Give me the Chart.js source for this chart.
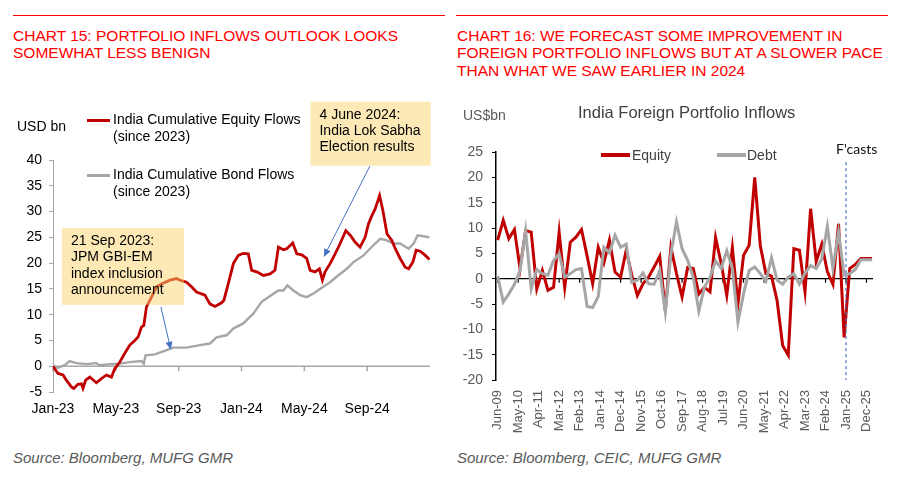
<!DOCTYPE html>
<html><head><meta charset="utf-8">
<script src="https://cdn.jsdelivr.net/npm/chart.js@4"></script>
<style>
body{margin:0;width:920px;height:489px;background:#fff;font-family:"Liberation Sans",Arial,sans-serif;position:relative;overflow:hidden}
.abs{position:absolute;white-space:nowrap}
.rule{position:absolute;height:1px;background:#ff0000}
.ttl{position:absolute;color:#ff0000;font-size:15.5px;line-height:17.3px;white-space:nowrap}
.src{position:absolute;color:#595959;font-size:15px;font-style:italic;line-height:18px;white-space:nowrap}
.leg{position:absolute;font-size:14px;line-height:17px;color:#000;white-space:nowrap}
.sw{position:absolute}
canvas{position:absolute}
</style></head><body>
<div class="rule" style="left:13px;top:15px;width:432px"></div>
<div class="ttl" style="left:13px;top:27px">CHART 15: PORTFOLIO INFLOWS OUTLOOK LOOKS<br>SOMEWHAT LESS BENIGN</div>
<div class="rule" style="left:456px;top:15px;width:432px"></div>
<div class="ttl" style="left:457px;top:27px">CHART 16: WE FORECAST SOME IMPROVEMENT IN<br>FOREIGN PORTFOLIO INFLOWS BUT AT A SLOWER PACE<br>THAN WHAT WE SAW EARLIER IN 2024</div>

<canvas id="left" width="440" height="430" style="left:0;top:0"></canvas>
<canvas id="right" width="450" height="440" style="left:450px;top:0"></canvas>

<div class="leg" style="left:17px;top:118px">USD bn</div>
<div class="sw" style="left:87px;top:119px;width:23px;height:2.5px;background:#c00000"></div>
<div class="leg" style="left:113px;top:111px">India Cumulative Equity Flows<br>(since 2023)</div>
<div class="sw" style="left:87px;top:174px;width:23px;height:2.5px;background:#a6a6a6"></div>
<div class="leg" style="left:113px;top:166px">India Cumulative Bond Flows<br>(since 2023)</div>

<div class="abs" style="left:463px;top:106px;font-size:14px;line-height:18px;color:#595959">US$bn</div>
<div class="abs" style="left:578px;top:103px;font-size:16.5px;line-height:19px;color:#404040">India Foreign Portfolio Inflows</div>
<div class="sw" style="left:601px;top:153px;width:29px;height:3.5px;background:#c00000"></div>
<div class="abs" style="left:632px;top:146px;font-size:14px;line-height:18px;color:#404040">Equity</div>
<div class="sw" style="left:717px;top:153px;width:29px;height:3.5px;background:#a6a6a6"></div>
<div class="abs" style="left:747px;top:146px;font-size:14px;line-height:18px;color:#404040">Debt</div>
<div class="abs" style="left:836px;top:140px;font-size:14px;line-height:18px;color:#111;font-family:Lato,'Open Sans',sans-serif">F'casts</div>

<div class="src" style="left:13px;top:449px">Source: Bloomberg, MUFG GMR</div>
<div class="src" style="left:457px;top:449px">Source: Bloomberg, CEIC, MUFG GMR</div>

<script>
// ---- Chart 15 data (x = months since Jan-2023) ----
const eqMonths = [0,0.32,0.64,0.85,1.17,1.32,1.59,1.81,1.91,2.08,2.34,2.76,3.08,3.40,3.72,3.93,4.25,4.57,4.89,5.21,5.42,5.63,5.78,5.95,6.27,6.59,7.01,7.44,7.86,8.08,8.50,8.82,9.14,9.67,9.99,10.31,10.73,10.88,11.16,11.48,11.80,12.11,12.43,12.65,12.97,13.39,13.82,14.13,14.35,14.67,14.88,15.26,15.52,15.83,16.15,16.37,16.68,16.96,17.15,17.32,17.64,17.96,18.28,18.64,18.92,19.23,19.55,19.87,20.08,20.30,20.51,20.79,21.00,21.26,21.57,21.79,22.10,22.42,22.64,22.91,23.12,23.38,23.70,23.97];
const eqValues = [0,-1.4,-1.7,-2.7,-4.0,-4.3,-3.5,-3.4,-4.3,-2.7,-2.1,-3.2,-2.4,-1.7,-2.1,-0.5,0.8,2.5,4.1,5.0,5.7,7.6,7.9,11.5,13.4,15.4,16.1,16.7,17.0,16.7,16.3,15.4,14.4,13.8,12.1,11.6,12.3,12.8,16.0,19.9,21.5,21.9,21.8,18.6,18.3,17.6,17.9,18.6,23.1,22.6,22.8,23.9,21.8,21.6,20.9,18.6,18.3,18.9,16.7,18.3,19.9,21.8,23.8,26.3,25.4,24.1,23.1,25.0,27.6,29.2,30.5,33.1,30.2,25.7,24.4,22.8,20.9,19.2,18.9,20.2,22.5,22.3,21.5,20.7];
const bondMonths = [0,0.32,0.74,1.06,1.49,2.13,2.76,2.98,3.61,4.25,4.89,5.63,5.78,5.89,6.48,7.23,7.65,8.50,9.35,9.99,10.41,11.05,11.48,12.11,12.75,13.28,13.82,14.35,14.67,14.92,15.30,15.73,16.15,16.58,17.11,17.64,18.07,18.70,19.13,19.77,20.08,20.51,20.83,21.26,21.68,22.10,22.64,22.96,23.21,23.59,23.97];
const bondValues = [0,-0.3,0.2,1.0,0.6,0.4,0.6,0.2,0.4,0.5,0.8,1.0,0.5,2.1,2.3,3.1,3.6,3.6,4.1,4.4,5.6,6.0,7.3,8.3,10.2,12.5,13.6,14.7,14.7,15.7,14.7,13.8,13.4,14.1,15.2,16.3,17.4,18.9,20.2,21.5,22.5,23.8,24.7,24.4,23.8,23.8,22.8,23.8,25.4,25.2,25.0];
const leftTickMonths = [0,4,8,12,16,20];
const leftTickLabels = ['Jan-23','May-23','Sep-23','Jan-24','May-24','Sep-24'];
const leftNotes = [
  {x0:16.39,x1:24.04,y0:51.3,y1:38.9,lines:['4 June 2024:','India Lok Sabha','Election results'],from:[20.17,38.8],to:[17.24,21.2]},
  {x0:0.57,x1:8.35,y0:26.8,y1:11.9,lines:['21 Sep 2023:','JPM GBI-EM','index inclusion','announcement'],from:[6.87,11.5],to:[7.5,3.2]}
];

// ---- Chart 16 data (quarterly, Jun-09 .. Mar-26) ----
const equityQ = [7.6,11.5,7.9,9.7,2.0,9.5,9.2,-2.0,1.6,-2.3,-1.7,9.2,-1.7,7.2,8.2,9.7,4.5,-1.0,6.2,3.1,7.6,1.3,0.3,5.6,0.7,-3.3,-1.0,0.3,2.3,4.4,-6.3,6.2,1.0,-3.6,2.2,2.0,-3.0,-1.7,-2.6,8.1,3.0,-3.3,6.1,-5.0,4.6,6.6,20.0,6.5,1.0,0.5,-4.3,-13.2,-15.1,5.9,5.6,-2.6,13.8,3.4,6.8,1.4,-1.1,10.8,-11.6,2.0,2.8,4.0,4.0,4.0];
const debtQ = [0.5,-4.6,-3.0,-1.1,1.6,9.4,-2.0,1.8,1.0,0.7,3.6,4.9,0.3,1.0,1.8,2.0,-5.5,-5.7,-3.5,6.2,5.1,8.6,6.2,6.8,-0.7,-0.3,1.1,-1.0,-1.1,1.6,-6.6,4.9,11.2,5.9,3.6,0.3,-6.4,-1.7,0.3,3.5,2.0,5.5,2.0,-8.6,-3.0,1.6,2.3,1.0,-0.5,4.1,-0.3,-1.1,0.3,1.0,-1.1,1.1,2.6,2.0,3.9,10.3,2.0,9.2,0.7,1.0,1.8,3.75,3.75,3.75];
const rightTickMonths = [0,11,22,33,44,55,66,77,88,99,110,121,132,143,154,165,176,187,198];
const rightTickLabels = ['Jun-09','May-10','Apr-11','Mar-12','Feb-13','Jan-14','Dec-14','Nov-15','Oct-16','Sep-17','Aug-18','Jul-19','Jun-20','May-21','Apr-22','Mar-23','Feb-24','Jan-25','Dec-25'];
const forecastStartMonth = 187; // Jan-25

const FAM = '"Liberation Sans", Arial, sans-serif';
Chart.defaults.font.family = FAM;

function arrow(ctx, x1, y1, x2, y2, color){
  const ang = Math.atan2(y2-y1, x2-x1), h = 8, w = 3.5;
  const bx = x2 - h*Math.cos(ang), by = y2 - h*Math.sin(ang);
  ctx.strokeStyle = color; ctx.fillStyle = color; ctx.lineWidth = 1;
  ctx.beginPath(); ctx.moveTo(x1,y1); ctx.lineTo(bx,by); ctx.stroke();
  ctx.beginPath(); ctx.moveTo(x2,y2);
  ctx.lineTo(bx + w*Math.sin(ang), by - w*Math.cos(ang));
  ctx.lineTo(bx - w*Math.sin(ang), by + w*Math.cos(ang));
  ctx.closePath(); ctx.fill();
}

const leftDeco = {
  id:'leftDeco',
  beforeDatasetsDraw(chart){
    const {ctx, chartArea:a, scales:{x,y}} = chart;
    const y0 = y.getPixelForValue(0);
    ctx.save(); ctx.strokeStyle='#a6a6a6'; ctx.lineWidth=1.5;
    ctx.beginPath(); ctx.moveTo(a.left,y0); ctx.lineTo(a.right,y0);
    leftTickMonths.forEach(m=>{const px=x.getPixelForValue(m); ctx.moveTo(px,y0); ctx.lineTo(px,y0+5);});
    ctx.stroke(); ctx.restore();
  },
  afterDatasetsDraw(chart){
    const {ctx, scales:{x,y}} = chart;
    ctx.save();
    leftNotes.forEach(n=>{
      const l=x.getPixelForValue(n.x0), r=x.getPixelForValue(n.x1), t=y.getPixelForValue(n.y0), b=y.getPixelForValue(n.y1);
      ctx.fillStyle='rgba(249,211,107,0.5)';
      ctx.fillRect(l,t,r-l,b-t);
      ctx.fillStyle='#000'; ctx.font='14px '+FAM; ctx.textBaseline='middle'; ctx.textAlign='left';
      n.lines.forEach((s,i)=>ctx.fillText(s, l+9, t+13+i*16.4));
      arrow(ctx, x.getPixelForValue(n.from[0]), y.getPixelForValue(n.from[1]), x.getPixelForValue(n.to[0]), y.getPixelForValue(n.to[1]), '#4472c4');
    });
    ctx.restore();
  }
};

new Chart(document.getElementById('left'), {
  type:'line',
  data:{datasets:[
    {label:'India Cumulative Equity Flows (since 2023)', data:eqMonths.map((m,i)=>({x:m,y:eqValues[i]})), borderColor:'#c00000', borderWidth:2.8, pointRadius:0, tension:0},
    {label:'India Cumulative Bond Flows (since 2023)', data:bondMonths.map((m,i)=>({x:m,y:bondValues[i]})), borderColor:'#a6a6a6', borderWidth:2.4, pointRadius:0, tension:0}
  ]},
  options:{
    responsive:false, animation:false,
    layout:{padding:{top:160,left:0,right:10,bottom:0}},
    plugins:{legend:{display:false}, tooltip:{enabled:false}},
    scales:{
      x:{type:'linear', min:0, max:24,
         afterBuildTicks:s=>{s.ticks = leftTickMonths.map(v=>({value:v}));},
         ticks:{callback:(v,i)=>leftTickLabels[i], color:'#000', font:{size:14}, padding:9, autoSkip:false, maxRotation:0, minRotation:0},
         grid:{display:false, drawTicks:false}, border:{display:false},
         afterFit:s=>{s.height=38;}},
      y:{min:-5, max:40,
         ticks:{stepSize:5, color:'#000', font:{size:14}, padding:7},
         grid:{drawOnChartArea:false, color:'#a6a6a6', tickLength:4},
         border:{color:'#a6a6a6', width:1},
         afterFit:s=>{s.width=53;}}
    }
  },
  plugins:[leftDeco]
});

const rightDeco = {
  id:'rightDeco',
  beforeDatasetsDraw(chart){
    const {ctx, chartArea:a, scales:{x,y}} = chart;
    const y0 = y.getPixelForValue(0);
    ctx.save(); ctx.strokeStyle='#000'; ctx.lineWidth=1.2;
    ctx.beginPath(); ctx.moveTo(a.left,y0); ctx.lineTo(a.right,y0);
    rightTickMonths.forEach(m=>{const px=x.getPixelForValue(m); ctx.moveTo(px,y0); ctx.lineTo(px,y0+4);});
    ctx.stroke(); ctx.restore();
  },
  afterDatasetsDraw(chart){
    const {ctx, scales:{x,y}} = chart;
    const px = x.getPixelForValue(forecastStartMonth);
    ctx.save(); ctx.strokeStyle='#4472c4'; ctx.lineWidth=1.2; ctx.setLineDash([3,3]);
    ctx.beginPath(); ctx.moveTo(px, y.getPixelForValue(23)); ctx.lineTo(px, y.getPixelForValue(-20)); ctx.stroke();
    ctx.restore();
  }
};

new Chart(document.getElementById('right'), {
  type:'line',
  data:{datasets:[
    {label:'Debt', data:debtQ.map((v,i)=>({x:i*3,y:v})), borderColor:'#a6a6a6', borderWidth:3, pointRadius:0, tension:0},
    {label:'Equity', data:equityQ.map((v,i)=>({x:i*3,y:v})), borderColor:'#c00000', borderWidth:3, pointRadius:0, tension:0}
  ]},
  options:{
    responsive:false, animation:false,
    layout:{padding:{top:152,left:0,right:27,bottom:0}},
    plugins:{legend:{display:false}, tooltip:{enabled:false}},
    scales:{
      x:{type:'linear', min:-0.9, max:201.5,
         afterBuildTicks:s=>{s.ticks = rightTickMonths.map(v=>({value:v}));},
         ticks:{callback:(v,i)=>rightTickLabels[i], color:'#595959', font:{size:13}, padding:10, autoSkip:false, maxRotation:90, minRotation:90},
         grid:{display:false, drawTicks:false}, border:{display:false},
         afterFit:s=>{s.height=60;}},
      y:{min:-20, max:25,
         ticks:{stepSize:5, color:'#595959', font:{size:14}, padding:9},
         grid:{drawOnChartArea:false, color:'#000', tickLength:4},
         border:{color:'#000', width:1.5},
         afterFit:s=>{s.width=46;}}
    }
  },
  plugins:[rightDeco]
});
</script>
</body></html>
